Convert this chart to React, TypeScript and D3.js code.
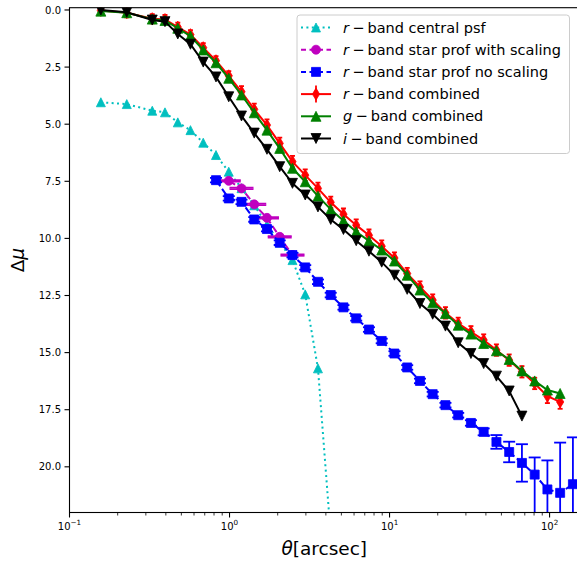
import React from "react";
import * as d3 from "d3";

// Radial bins (arcsec) shared by every profile
const radii = [
  0.157, 0.228, 0.329, 0.395, 0.475, 0.57, 0.685, 0.823, 0.989, 1.188, 1.427, 1.714,
  2.059, 2.474, 2.972, 3.57, 4.289, 5.152, 6.189, 7.435, 8.932, 10.73, 12.89, 15.49,
  18.6, 22.35, 26.85, 32.25, 38.74, 46.54, 55.91, 67.17, 80.69, 96.93, 116.4, 139.9,
];

// r-band central psf (bins 0..16)
const psfMu = [4.04, 4.12, 4.41, 4.48, 4.92, 5.26, 5.81, 6.35, 7.08, 7.8, 8.55, 9.4, 10.18, 10.95, 12.45, 15.69, 23.0];

// r-band star profile with scaling (bins 8..13)
const scaledMu = [7.48, 7.81, 8.51, 9.1, 9.93, 10.73];
const scaledErr = [0.03, 0.03, 0.03, 0.03, 0.03, 0.03];

// r-band star profile without scaling (bins 7..35)
const starMu = [
  7.45, 8.25, 8.4, 9.17, 9.59, 10.19, 10.73, 11.27, 11.9, 12.48, 13.02, 13.5, 13.99, 14.49,
  15.04, 15.65, 16.24, 16.82, 17.3, 17.74, 18.08, 18.47, 18.91, 19.35, 19.83, 20.34, 20.99,
  21.14, 20.76,
];
const starErrUp = [
  0.1, 0.1, 0.1, 0.1, 0.1, 0.1, 0.1, 0.1, 0.1, 0.1, 0.1, 0.1, 0.1, 0.1, 0.1, 0.1, 0.1, 0.1,
  0.1, 0.1, 0.12, 0.15, 0.3, 0.45, 0.82, 0.75, 1.27, 2.2, 2.05,
];
const starErrDown = [
  0.1, 0.1, 0.1, 0.1, 0.1, 0.1, 0.1, 0.1, 0.1, 0.1, 0.1, 0.1, 0.1, 0.1, 0.1, 0.1, 0.1, 0.1,
  0.1, 0.1, 0.12, 0.15, 0.3, 0.45, 0.82, 3.5, 4.0, 5.0, 5.0,
];

// Combined profiles (bins 0..34 for r and g, 0..31 for i)
const rMu = [
  0.02, 0.12, 0.38, 0.42, 0.75, 1.08, 1.65, 2.22, 2.88, 3.58, 4.35, 5.04, 5.84, 6.64, 7.23,
  7.81, 8.42, 8.94, 9.42, 9.86, 10.34, 10.86, 11.54, 12.13, 12.7, 13.26, 13.72, 14.09, 14.45,
  14.89, 15.33, 15.84, 16.35, 16.91, 17.16,
];
const rErr = [
  0.2, 0.2, 0.2, 0.2, 0.2, 0.2, 0.2, 0.2, 0.2, 0.25, 0.25, 0.25, 0.25, 0.25, 0.25, 0.25,
  0.25, 0.25, 0.25, 0.25, 0.25, 0.25, 0.25, 0.25, 0.25, 0.25, 0.25, 0.25, 0.25, 0.25, 0.25,
  0.25, 0.25, 0.3, 0.3,
];
const gMu = [
  0.05, 0.12, 0.4, 0.46, 0.8, 1.14, 1.75, 2.31, 2.99, 3.72, 4.5, 5.26, 6.06, 6.93, 7.52, 8.15,
  8.73, 9.23, 9.71, 10.11, 10.51, 10.99, 11.61, 12.26, 12.82, 13.29, 13.8, 14.19, 14.6, 14.92,
  15.3, 15.8, 16.24, 16.64, 16.79,
];
const iMu = [
  0.0, 0.1, 0.44, 0.51, 1.05, 1.5, 2.28, 2.93, 3.8, 4.64, 5.39, 6.1, 6.86, 7.59, 8.1, 8.62,
  9.17, 9.61, 10.1, 10.56, 11.04, 11.61, 12.23, 12.85, 13.32, 13.84, 14.57, 15.04, 15.48,
  16.03, 16.68, 17.78,
];

const yTicks = [0, 2.5, 5, 7.5, 10, 12.5, 15, 17.5, 20];
const xDecades = [-1, 0, 1, 2];

const legendLabels = [
  ["r", "band central psf"],
  ["r", "band star prof with scaling"],
  ["r", "band star prof no scaling"],
  ["r", "band combined"],
  ["g", "band combined"],
  ["i", "band combined"],
];

type MarkerKind = "triUp" | "triDown" | "circle" | "square" | "thinDiamond";
type LineStyle = "solid" | "dotted" | "dashed";

function markerPath(kind: MarkerKind, s: number): string {
  const h = s / 2;
  switch (kind) {
    case "triUp":
      return `M0,${-h}L${h},${h}L${-h},${h}Z`;
    case "triDown":
      return `M0,${h}L${h},${-h}L${-h},${-h}Z`;
    case "thinDiamond":
      return `M0,${-h}L${0.3 * s},0L0,${h}L${-0.3 * s},0Z`;
    case "square":
      return `M${-h},${-h}H${h}V${h}H${-h}Z`;
    case "circle":
    default:
      return d3.symbol(d3.symbolCircle, Math.PI * h * h)() as string;
  }
}

const dashFor = (style: LineStyle, legend = false) =>
  style === "dotted" ? "2 3.4" : style === "dashed" ? (legend ? "5 3.5" : "7.4 3.2") : undefined;

interface Series {
  theta: number[];
  mu: number[];
  color: string;
  style: LineStyle;
  marker: MarkerKind;
  size: number;
  errUp?: number[];
  errDown?: number[];
  cap?: number;
}

const FONT = "DejaVu Sans, sans-serif";

export default function App() {
  const left = 69.5;
  const right = 579;
  const top = 7.7;
  const bottom = 512.5;

  const x = d3.scaleLog().domain([0.1, 152.7]).range([left, right]);
  const y = d3.scaleLinear().domain([-0.1, 22]).range([top, bottom]);

  const series: Series[] = [
    { theta: radii.slice(0, 17), mu: psfMu, color: "#00bfbf", style: "dotted", marker: "triUp", size: 9 },
    {
      theta: radii.slice(8, 14), mu: scaledMu, color: "#bf00bf", style: "dashed", marker: "circle", size: 9,
      errUp: scaledErr, errDown: scaledErr, cap: 12,
    },
    {
      theta: radii.slice(7, 36), mu: starMu, color: "#0000ff", style: "dashed", marker: "square", size: 9,
      errUp: starErrUp, errDown: starErrDown, cap: 6,
    },
    {
      theta: radii.slice(0, 35), mu: rMu, color: "#ff0000", style: "solid", marker: "thinDiamond", size: 12,
      errUp: rErr, errDown: rErr, cap: 2.5,
    },
    { theta: radii.slice(0, 35), mu: gMu, color: "#008000", style: "solid", marker: "triUp", size: 10 },
    { theta: radii.slice(0, 32), mu: iMu, color: "#000000", style: "solid", marker: "triDown", size: 10 },
  ];

  const pathFor = (s: Series) =>
    d3
      .line<number>()
      .x((_, i) => x(s.theta[i]))
      .y((d) => y(d))(s.mu) as string;

  const minorTicks: number[] = [];
  for (let e = -1; e <= 2; e++) {
    for (let m = 2; m <= 9; m++) {
      const v = m * Math.pow(10, e);
      if (v <= 152.7) minorTicks.push(v);
    }
  }

  const legendX = 297;
  const legendY = 15;
  const rowY = (i: number) => 27.5 + 22.2 * i;

  return (
    <svg
      width={577}
      height={561}
      style={{ position: "absolute", left: 0, top: 0, background: "#fff" }}
      fontFamily={FONT}
    >
      <rect x={0} y={0} width={577} height={561} fill="#fff" />
      <defs>
        <clipPath id="plotArea">
          <rect x={left} y={top} width={right - left} height={bottom - top} />
        </clipPath>
      </defs>

      <g clipPath="url(#plotArea)">
        {series.map((s, si) => (
          <g key={si}>
            {s.errUp &&
              s.mu.map((m, i) => {
                const cx = x(s.theta[i]);
                const y1 = y(m - s.errUp![i]);
                const y2 = y(m + s.errDown![i]);
                const c = s.cap || 0;
                return (
                  <g key={i} stroke={s.color} strokeWidth={1.8}>
                    <line x1={cx} x2={cx} y1={y1} y2={y2} />
                    <line x1={cx - c} x2={cx + c} y1={y1} y2={y1} />
                    <line x1={cx - c} x2={cx + c} y1={y2} y2={y2} />
                  </g>
                );
              })}
            <path
              d={pathFor(s)}
              fill="none"
              stroke={s.color}
              strokeWidth={2}
              strokeDasharray={dashFor(s.style)}
            />
            {s.mu.map((m, i) => (
              <path
                key={i}
                d={markerPath(s.marker, s.size)}
                transform={`translate(${x(s.theta[i])},${y(m)})`}
                fill={s.color}
                stroke={s.color}
                strokeWidth={0.8}
              />
            ))}
          </g>
        ))}
      </g>

      {/* frame */}
      <rect x={left} y={top} width={right - left} height={bottom - top} fill="none" stroke="#000" strokeWidth={1.1} />

      {/* y axis */}
      {yTicks.map((t) => (
        <g key={t}>
          <line x1={left - 5} x2={left} y1={y(t)} y2={y(t)} stroke="#000" strokeWidth={1.1} />
          <text x={left - 8.5} y={y(t) + 3.6} textAnchor="end" fontSize={10} fill="#000">
            {t.toFixed(1)}
          </text>
        </g>
      ))}

      {/* x axis */}
      {minorTicks.map((t) => (
        <line key={t} x1={x(t)} x2={x(t)} y1={bottom} y2={bottom + 3} stroke="#000" strokeWidth={0.8} />
      ))}
      {xDecades.map((e) => {
        const v = Math.pow(10, e);
        return (
          <g key={e}>
            <line x1={x(v)} x2={x(v)} y1={bottom} y2={bottom + 5} stroke="#000" strokeWidth={1.1} />
            <text x={x(v)} y={bottom + 17} textAnchor="middle" fontSize={10} fill="#000">
              10
              <tspan dy={-5} fontSize={7.2}>
                {e < 0 ? `\u2212${-e}` : `${e}`}
              </tspan>
            </text>
          </g>
        );
      })}

      {/* axis labels */}
      <text x={(left + right) / 2} y={555} textAnchor="middle" fontSize={18.5} fill="#000">
        <tspan fontStyle="italic">θ</tspan>[arcsec]
      </text>
      <text
        transform={`translate(24,${(top + bottom) / 2}) rotate(-90)`}
        textAnchor="middle"
        fontSize={18.5}
        fill="#000"
      >
        Δ<tspan fontStyle="italic">μ</tspan>
      </text>

      {/* legend */}
      <rect
        x={legendX}
        y={legendY}
        width={272.5}
        height={138.5}
        rx={3}
        fill="#fff"
        fillOpacity={0.8}
        stroke="#cccccc"
        strokeWidth={1}
      />
      {series.map((s, i) => {
        const cy = rowY(i);
        return (
          <g key={i}>
            <line
              x1={301}
              x2={331}
              y1={cy}
              y2={cy}
              stroke={s.color}
              strokeWidth={2}
              strokeDasharray={dashFor(s.style, true)}
            />
            {i === 3 && <line x1={316} x2={316} y1={cy - 8.5} y2={cy + 8.5} stroke={s.color} strokeWidth={1.8} />}
            <path
              d={markerPath(s.marker, s.size)}
              transform={`translate(316,${cy})`}
              fill={s.color}
              stroke={s.color}
              strokeWidth={0.8}
            />
            <text x={343} y={cy + 5} fontSize={14.5} fill="#000">
              <tspan fontStyle="italic">{legendLabels[i][0]}</tspan>
              <tspan dx={3.3}>−</tspan>
              <tspan dx={3}>{legendLabels[i][1]}</tspan>
            </text>
          </g>
        );
      })}
    </svg>
  );
}
